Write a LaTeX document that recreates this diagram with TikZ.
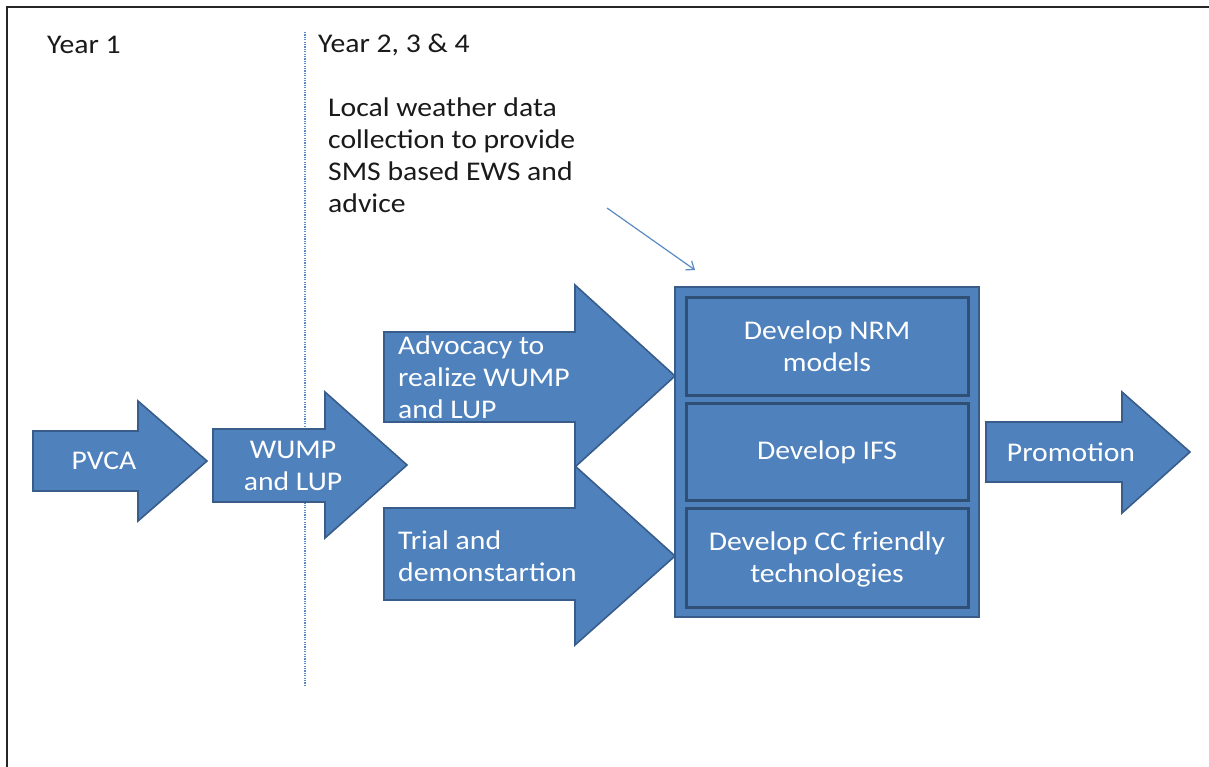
\documentclass[tikz,border=0pt]{standalone}
\usepackage{fontspec}
\setmainfont[FakeStretch=1.1]{Carlito}
\usetikzlibrary{arrows.meta}
\definecolor{fillblue}{HTML}{4F81BD}
\definecolor{edgeblue}{HTML}{385D8A}
\definecolor{lineblue}{HTML}{5A8AC6}
\definecolor{darktext}{HTML}{1A1A1A}
\tikzset{
  blockarrow/.style={fill=fillblue, draw=edgeblue, line width=1.6pt, line join=miter},
  boxouter/.style={fill=fillblue, draw=edgeblue, line width=2pt},
  boxinner/.style={fill=fillblue, draw=edgeblue!85!black, line width=3pt},
  wtext/.style={text=white, font=\fontsize{27}{32}\selectfont, inner sep=0pt},
  btext/.style={text=darktext, font=\fontsize{27}{32}\selectfont, inner sep=0pt},
  divider/.style={draw=lineblue, dash pattern=on 1.2pt off 1.2pt, line width=1.3pt},
  pointer/.style={draw=lineblue, line width=1.2pt, -{Straight Barb[length=7pt,width=11pt]}}
}
\begin{document}
\begin{tikzpicture}[x=1pt,y=-1pt]
\useasboundingbox (0,0) rectangle (1209,767);
\fill[white] (0,0) rectangle (1209,767);
\draw[line width=2pt, black!85] (7,767) -- (7,7) -- (1209,7);

% divider
\coordinate (dtop) at (305,32);
\coordinate (dbot) at (305,686);
\draw[divider] (dtop) -- (dbot);

% labels
\node[btext, anchor=west] (y1) at (47,45) {Year 1};
\node[btext, anchor=west] (y2) at (318,45) {Year 2, 3 \& 4};
\node[btext, anchor=west, align=left] (local) at (328,155)
  {Local weather data\\collection to provide\\SMS based EWS and\\advice};

% block arrows
\draw[blockarrow] (33,431) -- (138,431) -- (138,401) -- (207,461) -- (138,521) -- (138,491) -- (33,491) -- cycle;
\draw[blockarrow] (213,429) -- (325,429) -- (325,392) -- (407,465) -- (325,538) -- (325,502) -- (213,502) -- cycle;
\draw[blockarrow] (384,332) -- (575,332) -- (575,285) -- (675,376) -- (575,467) -- (575,422) -- (384,422) -- cycle;
\draw[blockarrow] (384,508) -- (575,508) -- (575,466) -- (675,556) -- (575,645) -- (575,600) -- (384,600) -- cycle;
\draw[blockarrow] (986,422) -- (1122,422) -- (1122,392) -- (1190,452) -- (1122,513) -- (1122,482) -- (986,482) -- cycle;

\node[wtext] (pvca) at (104,461) {PVCA};
\node[wtext, align=center] (wump) at (293,466) {WUMP\\and LUP};
\node[wtext, anchor=west, align=left] (adv) at (398,377) {Advocacy to\\realize WUMP\\and LUP};
\node[wtext, anchor=west, align=left] (trial) at (398,556) {Trial and\\demonstartion};
\node[wtext] (promo) at (1071,452) {Promotion};

% activity box
\draw[boxouter] (675,287) rectangle (979,617);
\draw[boxinner] (686,297) rectangle (968,395);
\draw[boxinner] (686,403) rectangle (968,500);
\draw[boxinner] (686,508) rectangle (968,607);
\node[wtext, align=center] (nrm) at (827,346) {Develop NRM\\models};
\node[wtext] (ifs) at (827,452) {Develop IFS};
\node[wtext, align=center] (cc) at (827,559) {Develop CC friendly\\technologies};

% pointer
\coordinate (ptail) at (607,208);
\coordinate (phead) at (695,270);
\draw[pointer] (ptail) -- (phead);
\end{tikzpicture}
\end{document}
